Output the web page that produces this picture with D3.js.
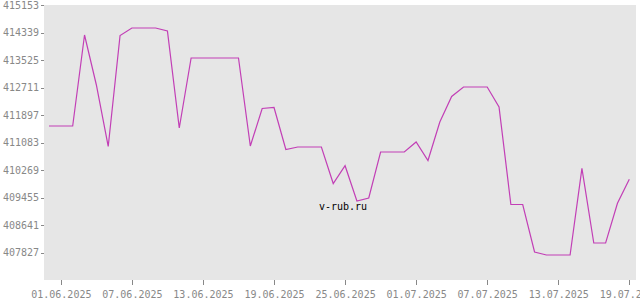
<!DOCTYPE html>
<html>
<head>
<meta charset="utf-8">
<script src="https://cdn.jsdelivr.net/npm/d3@7"></script>
<style>
  html, body { margin: 0; padding: 0; background: #fff; }
  svg { display: block; }
  text { font-family: "DejaVu Sans Mono", monospace; font-size: 10px; }
</style>
</head>
<body>
<svg id="chart" width="640" height="300"></svg>
<script>
const startDate = "31.05.2025";
const values = [
  411571, 411571, 411571, 414265, 412785, 410965, 414250, 414472, 414472, 414472,
  414383, 411512, 413584, 413584, 413584, 413584, 413584, 410979, 412089, 412119,
  410876, 410950, 410950, 410950, 409869, 410396, 409351, 409440, 410802, 410802,
  410802, 411098, 410550, 411690, 412445, 412726, 412726, 412726, 412134, 409248,
  409248, 407842, 407753, 407753, 407753, 410319, 408108, 408108, 409283, 409994
];
const xTickLabels = ["01.06.2025", "07.06.2025", "13.06.2025", "19.06.2025", "25.06.2025",
                     "01.07.2025", "07.07.2025", "13.07.2025", "19.07.2025"];
const yTicks = [407827, 408641, 409455, 410269, 411083, 411897, 412711, 413525, 414339, 415153];
const yDomain = [407013, 415153];
const watermark = "v-rub.ru";

const parse = d3.timeParse("%d.%m.%Y");
const fmt = d3.timeFormat("%d.%m.%Y");
const start = parse(startDate);
const data = values.map((v, i) => ({ date: d3.timeDay.offset(start, i), value: v }));

const svg = d3.select("#chart");
const plot = { left: 44, right: 636, top: 5, bottom: 280 };

svg.append("rect")
  .attr("x", plot.left).attr("y", plot.top)
  .attr("width", plot.right - plot.left).attr("height", plot.bottom - plot.top)
  .attr("fill", "#e6e6e6");

const x = d3.scaleTime()
  .domain([data[0].date, data[data.length - 1].date])
  .range([49, 629.3]);
const y = d3.scaleLinear().domain(yDomain).range([plot.bottom, plot.top]);

// y axis
const yAxis = svg.append("g")
  .attr("transform", `translate(${plot.left},0)`)
  .call(d3.axisLeft(y).tickValues(yTicks).tickSize(3).tickPadding(2).tickFormat(d3.format("d")));
yAxis.select(".domain").remove();
yAxis.selectAll("line").attr("stroke", "#888").attr("shape-rendering", "crispEdges");
yAxis.selectAll("text").attr("fill", "#888").style("font-family", "DejaVu Sans Mono").style("font-size", "10px");

// x axis
const xAxis = svg.append("g")
  .attr("transform", `translate(0,${plot.bottom})`)
  .call(d3.axisBottom(x).tickValues(xTickLabels.map(parse)).tickSize(5).tickPadding(6).tickFormat(fmt));
xAxis.select(".domain").remove();
xAxis.selectAll("line").attr("stroke", "#888").attr("shape-rendering", "crispEdges");
xAxis.selectAll("text").attr("fill", "#888").style("font-family", "DejaVu Sans Mono").style("font-size", "10px");

// line
const line = d3.line().x(d => x(d.date)).y(d => y(d.value));
svg.append("path")
  .datum(data)
  .attr("d", line)
  .attr("fill", "none")
  .attr("stroke", "#c23fb6")
  .attr("stroke-width", 1.2);

// watermark
svg.append("text")
  .attr("x", (plot.left + plot.right) / 2 + 3)
  .attr("y", 210)
  .attr("text-anchor", "middle")
  .attr("fill", "#000")
  .text(watermark);
</script>
</body>
</html>
